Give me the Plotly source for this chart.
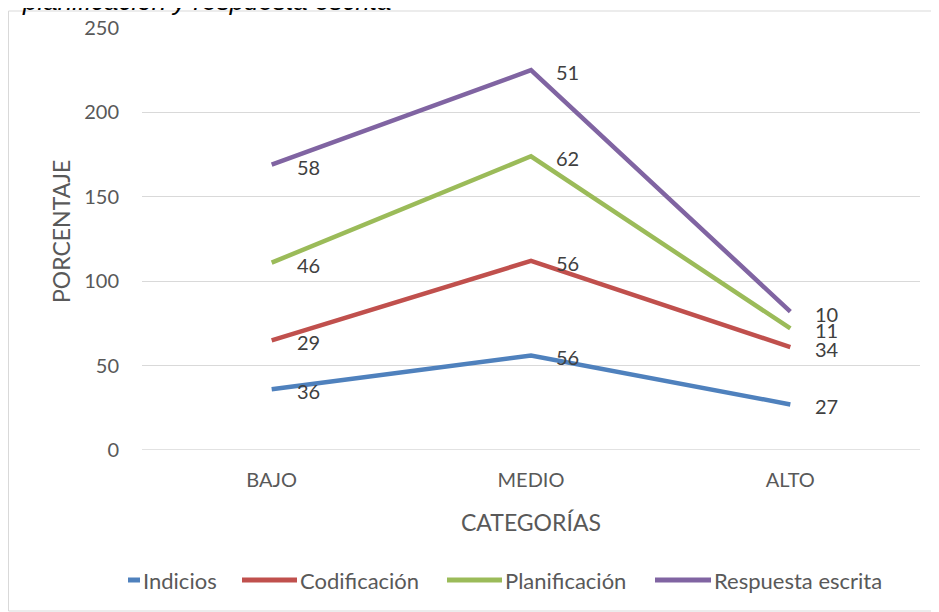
import plotly.graph_objects as go

categories = ["BAJO", "MEDIO", "ALTO"]
indicios = [36, 56, 27]
codificacion = [29, 56, 34]
planificacion = [46, 62, 11]
respuesta = [58, 51, 10]
series_names = ["Indicios", "Codificación", "Planificación", "Respuesta escrita"]
colors = ["#4F81BD", "#C0504D", "#9BBB59", "#8064A2"]
y_ticks = [0, 50, 100, 150, 200, 250]

# the page body has an 8px margin, so the figure is drawn 8px in from the window corner
OFF = 8
W, H = 939 - OFF, 612 - OFF
L, R, T, B = 142 - OFF, 19, 28 - OFF, 162
pw, ph = W - L - R, H - T - B

font = "Lato, Open Sans, sans-serif"
text_col = "#595959"


def px2x(px):
    return (px - OFF - L) / pw


def px2y(py):
    return (H - B - (py - OFF)) / ph


fig = go.Figure()
cum = [0, 0, 0]
all_series = [indicios, codificacion, planificacion, respuesta]
for name, vals, col in zip(series_names, all_series, colors):
    cum = [c + v for c, v in zip(cum, vals)]
    fig.add_trace(go.Scatter(
        x=categories, y=cum, name=name, mode="lines",
        line=dict(color=col, width=4.5), showlegend=False,
    ))
    for cat, yv, v in zip(categories, cum, vals):
        fig.add_annotation(x=cat, y=yv, text=str(v), showarrow=False,
                           xanchor="left", yanchor="middle", xshift=23, yshift=-2,
                           font=dict(family=font, size=20, color="#404040"))

# border
fig.add_shape(type="rect", xref="paper", yref="paper",
              x0=px2x(8.5), x1=px2x(938), y0=px2y(611), y1=px2y(11),
              line=dict(color="#D9D9D9", width=1), layer="below")

# cut-off caption at the top
fig.add_annotation(text="<i>planificación y respuesta escrita</i>", xref="paper", yref="paper",
                   x=px2x(20), y=px2y(18), xanchor="left", yanchor="bottom", showarrow=False,
                   font=dict(family="Liberation Sans, Arial", size=26, color="#000000"))

# axis titles
fig.add_annotation(text="CATEGORÍAS", xref="paper", yref="paper", x=0.5, y=px2y(522),
                   xanchor="center", yanchor="middle", showarrow=False,
                   font=dict(family=font, size=23, color=text_col))
fig.add_annotation(text="PORCENTAJE", xref="paper", yref="paper", x=px2x(61), y=px2y(232),
                   xanchor="center", yanchor="middle", showarrow=False, textangle=-90,
                   font=dict(family=font, size=23, color=text_col))

# custom legend (line swatch + label)
legend_line_x = [(128, 140), (242, 297), (447, 502), (655, 711)]
for (x0, x1), name, col in zip(legend_line_x, series_names, colors):
    fig.add_shape(type="line", xref="paper", yref="paper",
                  x0=px2x(x0), x1=px2x(x1), y0=px2y(580), y1=px2y(580),
                  line=dict(color=col, width=5))
    fig.add_annotation(text=name, xref="paper", yref="paper", x=px2x(x1 + 1), y=px2y(580),
                       xanchor="left", yanchor="middle", showarrow=False,
                       font=dict(family=font, size=22, color=text_col))

fig.update_layout(
    width=W, height=H,
    margin=dict(l=L, r=R, t=T, b=B, autoexpand=False),
    paper_bgcolor="white", plot_bgcolor="white",
    font=dict(family=font, color=text_col),
    showlegend=False,
    xaxis=dict(type="category", range=[-0.5, 2.5], showgrid=False, zeroline=False,
               showline=False, ticks="", automargin=False,
               tickfont=dict(family=font, size=20, color=text_col), ticklabelstandoff=16),
    yaxis=dict(range=[0, 250], tickvals=y_ticks, showgrid=True, gridcolor="#D9D9D9",
               gridwidth=1.3, zeroline=False, showline=False, ticks="", automargin=False,
               tickfont=dict(family=font, size=20, color=text_col), ticklabelstandoff=22),
)
fig.add_shape(type="line", xref="paper", yref="y", x0=0, x1=1, y0=0, y1=0,
              line=dict(color="#D9D9D9", width=1.5), layer="below")

fig.write_html("out.html")
